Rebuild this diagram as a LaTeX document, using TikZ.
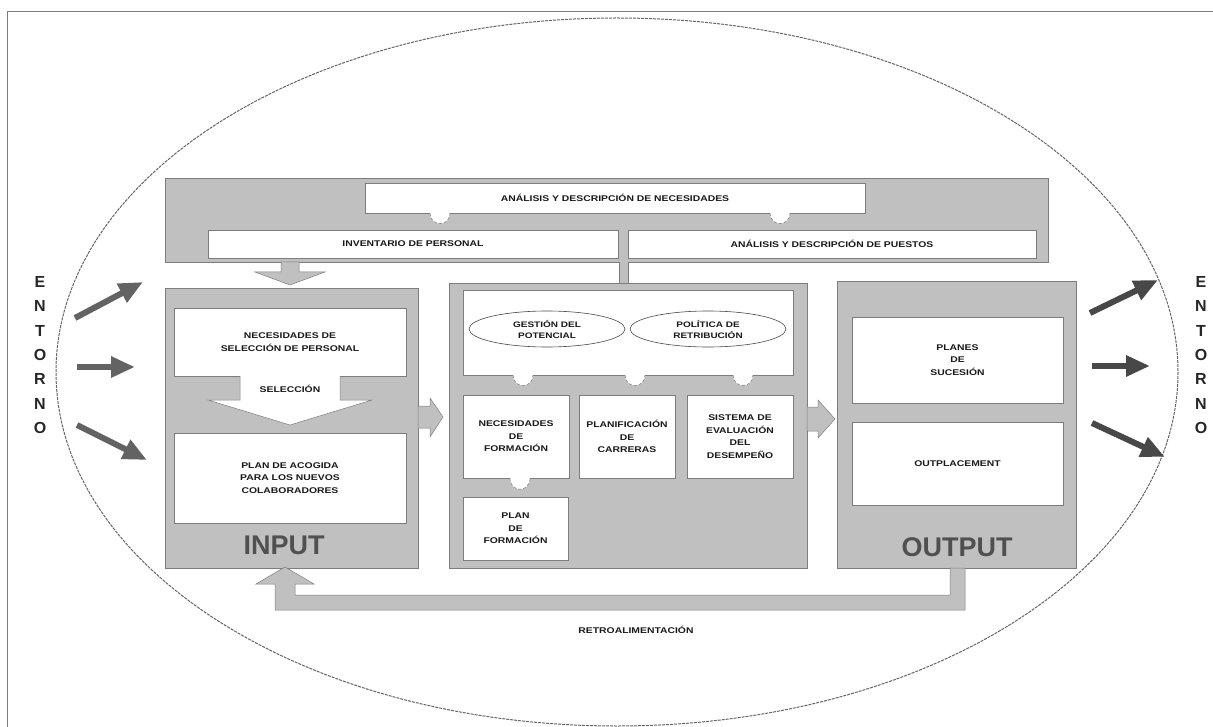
\documentclass[tikz,border=0pt]{standalone}
\usepackage{fontspec}
\setmainfont{Liberation Sans}
\newfontfamily\widefont[FakeStretch=1.25]{Liberation Sans}
\usetikzlibrary{arrows.meta,shapes.geometric}
\definecolor{gfill}{RGB}{192,192,192}
\definecolor{gedge}{RGB}{125,125,125}
\definecolor{darkar}{RGB}{72,72,72}
\definecolor{txt}{RGB}{25,25,25}
\definecolor{bigtxt}{RGB}{80,80,80}
\begin{document}
\begin{tikzpicture}[x=1pt,y=-1pt,
  gblock/.style={draw=gedge,line width=0.6pt,fill=gfill,inner sep=0pt},
  wbox/.style={draw=gedge,line width=0.6pt,fill=white,inner sep=0pt,align=center,
    font=\widefont\fontsize{8.3}{12.5}\selectfont\bfseries,text=txt},
  lbl/.style={font=\widefont\fontsize{8.3}{12.5}\selectfont\bfseries,text=txt,align=center,inner sep=0pt},
  oval/.style={ellipse,draw=darkar,line width=0.6pt,fill=white,minimum width=156pt,minimum height=36pt,
    inner sep=0pt,align=center,font=\widefont\fontsize{8}{11}\selectfont\bfseries,text=txt},
  bigword/.style={font=\fontsize{27}{27}\selectfont\bfseries,text=bigtxt,inner sep=0pt},
  entorno/.style={font=\fontsize{16}{24.3}\selectfont\bfseries,text=black!85,align=center,inner sep=0pt},
  envarrow/.style={draw=darkar,line width=6pt,-{Triangle[length=24pt,width=20pt]}},
  bump/.style={fill=white,draw=gedge,line width=0.5pt,dash pattern=on 3pt off 2pt},
]
\useasboundingbox (0,0) rectangle (1213,727);
% page frame
\draw[gedge,line width=1pt] (7,727) -- (7,12) -- (1213,12);
% outer ellipse
\draw[black!60,line width=1pt,dash pattern=on 3pt off 1pt] (617,372) ellipse [x radius=561, y radius=354];

% ENTORNO labels
\node[entorno] (entL) at (40,355) {E\\N\\T\\O\\R\\N\\O};
\node[entorno] (entR) at (1201,355) {E\\N\\T\\O\\R\\N\\O};

% environment arrows
\coordinate (la1) at (75,318); \coordinate (lb1) at (143,282);
\coordinate (la2) at (77,367); \coordinate (lb2) at (135,367);
\coordinate (la3) at (77,425); \coordinate (lb3) at (147,460);
\coordinate (ra1) at (1090,313); \coordinate (rb1) at (1158,280);
\coordinate (ra2) at (1092,366); \coordinate (rb2) at (1150,366);
\coordinate (ra3) at (1092,423); \coordinate (rb3) at (1165,457);
\draw[envarrow,draw=darkar!85] (la1) -- (lb1);
\draw[envarrow,draw=darkar!85] (la2) -- (lb2);
\draw[envarrow,draw=darkar!85] (la3) -- (lb3);
\draw[envarrow] (ra1) -- (rb1);
\draw[envarrow] (ra2) -- (rb2);
\draw[envarrow] (ra3) -- (rb3);

% top band
\node[gblock,minimum width=883pt,minimum height=84pt] (band) at (606.5,220) {};
% connector bar from band to middle block
\fill[gfill] (619,258) rectangle (628,285);
\draw[gedge,line width=0.6pt] (619,262) -- (619,283) (628,262) -- (628,283);
\node[wbox,minimum width=500pt,minimum height=30pt] (necs) at (615,198) {AN\'ALISIS Y DESCRIPCI\'ON DE NECESIDADES};
\node[wbox,minimum width=410pt,minimum height=28pt] (inv) at (413,244) {INVENTARIO DE PERSONAL};
\node[wbox,minimum width=408pt,minimum height=28pt] (pue) at (832,244) {AN\'ALISIS Y DESCRIPCI\'ON DE PUESTOS};
% bumps below necesidades
\path[bump] (430,213) .. controls (430,227) and (450,227) .. (450,213);
\path[bump] (770,213) .. controls (770,227) and (790,227) .. (790,213);

% arrow band -> input
\filldraw[fill=gfill,draw=gedge,line width=0.5pt] (281,262) -- (299,262) -- (299,272) -- (325,272) -- (290,285) -- (255,272) -- (281,272) -- cycle;

% INPUT block
\node[gblock,minimum width=253pt,minimum height=280pt] (inb) at (291.5,428) {};
\node[wbox,minimum width=232pt,minimum height=68pt] (nsel) at (290,342) {NECESIDADES DE\\SELECCI\'ON DE PERSONAL};
\node[wbox,minimum width=232pt,minimum height=90pt] (acog) at (290,478) {PLAN DE ACOGIDA\\PARA LOS NUEVOS\\COLABORADORES};
\fill[white] (240,375) -- (340,375) -- (340,400) -- (372,400) -- (290,425) -- (208,400) -- (240,400) -- cycle;
\draw[gedge,line width=0.5pt] (240,376) -- (240,400) -- (208,400) -- (290,425) -- (372,400) -- (340,400) -- (340,376);
\node[lbl] (sel) at (290,389) {SELECCI\'ON};
\node[bigword] (input) at (284,545) {INPUT};

% arrow input -> middle
\filldraw[fill=gfill,draw=gedge,line width=0.5pt] (418,406) -- (430,406) -- (430,398) -- (443,417) -- (430,437) -- (430,428) -- (418,428) -- cycle;

% middle block
\node[gblock,minimum width=358pt,minimum height=285pt] (mid) at (628,425.5) {};
\node[wbox,minimum width=330pt,minimum height=85pt] (midtop) at (628,332.5) {};
\node[oval] (gest) at (547,329) {GESTI\'ON DEL\\POTENCIAL};
\node[oval] (poli) at (708,329) {POL\'ITICA DE\\RETRIBUCI\'ON};
\node[wbox,minimum width=106pt,minimum height=83pt] (nform) at (516,436.5) {NECESIDADES\\DE\\FORMACI\'ON};
\node[wbox,minimum width=96pt,minimum height=83pt] (carr) at (627,436.5) {PLANIFICACI\'ON\\DE\\CARRERAS};
\node[wbox,minimum width=106pt,minimum height=83pt] (sist) at (740,436.5) {SISTEMA DE\\EVALUACI\'ON\\DEL\\DESEMPE\~NO};
\node[wbox,minimum width=105pt,minimum height=63pt] (pform) at (515.5,528.5) {PLAN\\DE\\FORMACI\'ON};
\path[bump] (513,375) .. controls (513,389) and (533,389) .. (533,375);
\path[bump] (625,375) .. controls (625,389) and (645,389) .. (645,375);
\path[bump] (733,375) .. controls (733,389) and (753,389) .. (753,375);
\path[bump] (510,478) .. controls (510,493) and (530,493) .. (530,478);

% arrow middle -> output
\filldraw[fill=gfill,draw=gedge,line width=0.5pt] (807,407) -- (818,407) -- (818,400) -- (835,419) -- (818,438) -- (818,431) -- (807,431) -- cycle;

% OUTPUT block
\node[gblock,minimum width=239pt,minimum height=287pt] (outb) at (956.5,424.5) {};
\node[wbox,minimum width=211pt,minimum height=86pt] (suc) at (957.5,360) {PLANES\\DE\\SUCESI\'ON};
\node[wbox,minimum width=211pt,minimum height=83pt] (outp) at (957.5,463.5) {OUTPLACEMENT};
\node[bigword] (output) at (957,547) {OUTPUT};

% feedback arrow
\filldraw[fill=gfill,draw=gedge,line width=0.5pt]
  (950,568) -- (965,568) -- (965,610) -- (275,610) -- (275,584) -- (256,584) -- (285,567)
  -- (314,584) -- (295,584) -- (295,595) -- (950,595) -- cycle;
\node[lbl] (retro) at (636,630) {RETROALIMENTACI\'ON};
\end{tikzpicture}
\end{document}
